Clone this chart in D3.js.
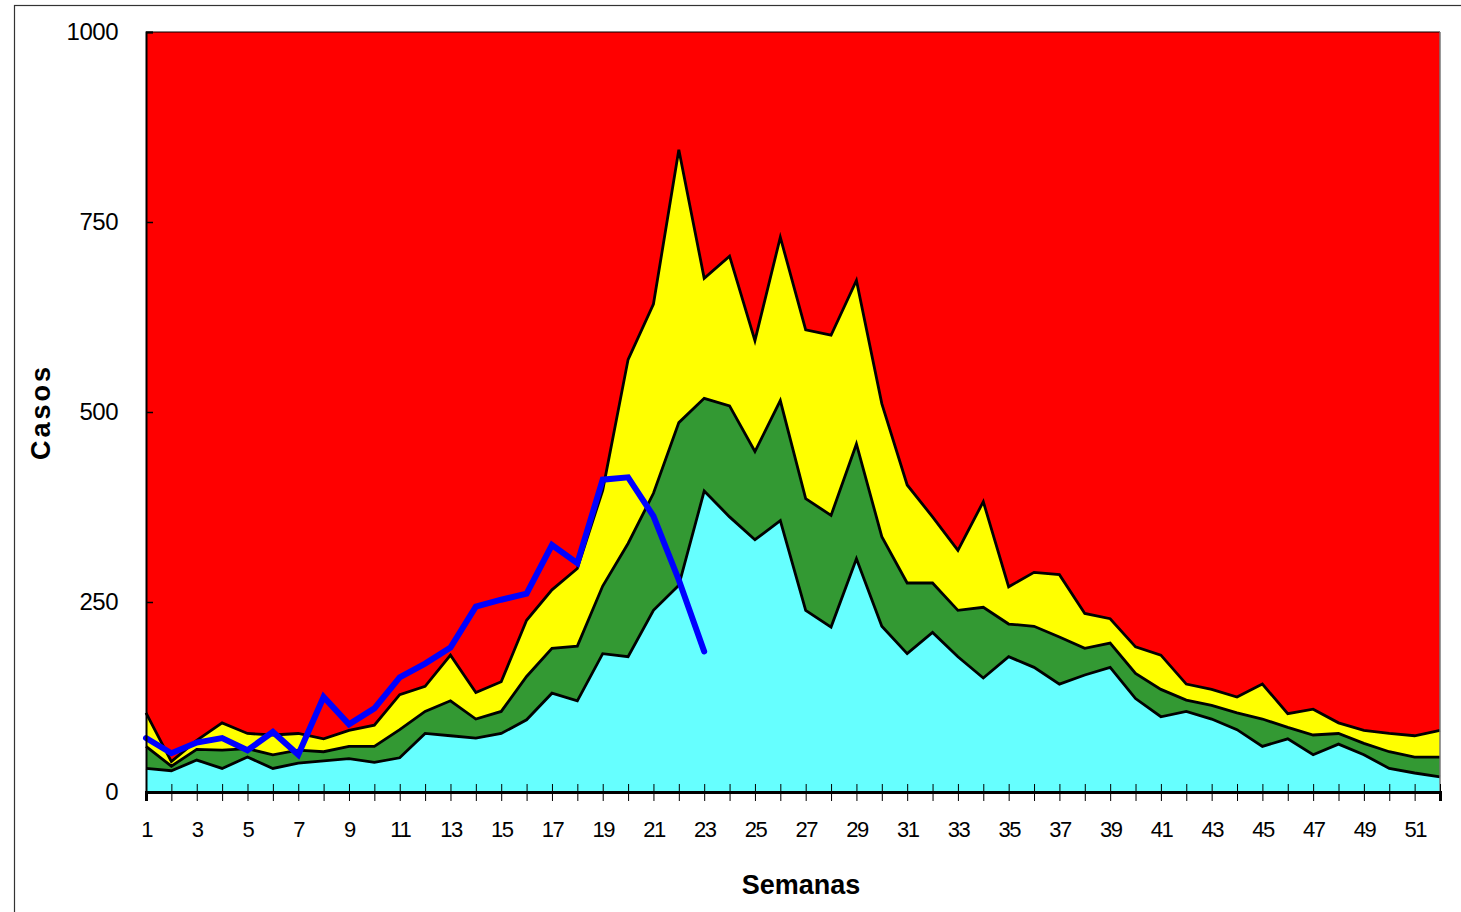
<!DOCTYPE html>
<html>
<head>
<meta charset="utf-8">
<script src="https://cdn.jsdelivr.net/npm/d3@7"></script>
<style>
  body { margin: 0; background: #fff; }
  text { font-family: "Liberation Sans", Arial, sans-serif; }
</style>
</head>
<body>
<svg id="chart" width="1461" height="912"></svg>
<script>
// weeks 1..52
const weeks = d3.range(1, 53);

// endemic channel boundaries
const q1 = [31, 28, 42, 31, 46, 31, 38, 41, 44, 39, 45, 77, 74, 71, 77, 95, 130, 120, 182, 178,
  239, 272, 396, 362, 332, 357, 239, 217, 307, 218, 182, 210, 178, 150, 178, 164, 142, 154, 164, 123,
  99, 106, 96, 82, 60, 70, 49, 63, 49, 31, 25, 20];
const q2 = [60, 34, 56, 55, 57, 49, 55, 53, 60, 60, 82, 106, 120, 96, 106, 152, 189, 192, 271, 327,
  393, 486, 518, 508, 448, 515, 386, 364, 458, 336, 275, 275, 239, 243, 221, 218, 204, 189, 196, 156,
  135, 121, 114, 104, 96, 85, 75, 77, 64, 53, 46, 46];
const q3 = [104, 40, 68, 91, 77, 75, 77, 70, 81, 88, 128, 139, 180, 131, 145, 226, 266, 294, 397, 569,
  642, 845, 676, 705, 594, 730, 608, 601, 673, 511, 404, 362, 318, 382, 270, 289, 286, 235, 228, 191,
  180, 142, 135, 125, 142, 103, 109, 91, 81, 77, 74, 81];

// current year cases (weeks 1-23)
const casos = [71, 51, 65, 71, 55, 79, 49, 125, 89, 110, 151, 169, 190, 244, 253, 261, 325, 301, 411, 414,
  363, 279, 185];

const yTicks = [0, 250, 500, 750, 1000];

const svg = d3.select('#chart');

// outer frame
svg.append('rect')
  .attr('x', 14.5).attr('y', 5.5)
  .attr('width', 1500).attr('height', 1000)
  .attr('fill', 'none').attr('stroke', '#333').attr('stroke-width', 1.2);

const x = d3.scaleLinear().domain([1, 52]).range([146, 1440]);
const y = d3.scaleLinear().domain([0, 1000]).range([792, 32]);

// red background = epidemic zone up to 1000
svg.append('rect')
  .attr('x', x(1)).attr('y', y(1000))
  .attr('width', x(52) - x(1)).attr('height', y(0) - y(1000))
  .attr('fill', '#ff0000');

const layers = [
  { vals: q3, color: '#ffff00' },
  { vals: q2, color: '#339933' },
  { vals: q1, color: '#66ffff' },
];

layers.forEach(function (l) {
  const area = d3.area()
    .x((d, i) => x(weeks[i]))
    .y0(y(0))
    .y1(d => y(d));
  svg.append('path')
    .datum(l.vals)
    .attr('d', area)
    .attr('fill', l.color);
});

// black boundary lines
[q3, q2, q1].forEach(function (vals) {
  const line = d3.line()
    .x((d, i) => x(weeks[i]))
    .y(d => y(d));
  svg.append('path')
    .datum(vals)
    .attr('d', line)
    .attr('fill', 'none')
    .attr('stroke', '#000')
    .attr('stroke-width', 2.8)
    .attr('stroke-linejoin', 'miter');
});

// plot border top/right
svg.append('line')
  .attr('x1', x(1)).attr('x2', x(52)).attr('y1', y(1000)).attr('y2', y(1000))
  .attr('stroke', '#000').attr('stroke-width', 1);
svg.append('line')
  .attr('x1', x(52)).attr('x2', x(52)).attr('y1', y(1000)).attr('y2', y(0))
  .attr('stroke', '#777').attr('stroke-width', 1.5);

// current year line
svg.append('path')
  .datum(casos)
  .attr('d', d3.line().x((d, i) => x(weeks[i])).y(d => y(d)))
  .attr('fill', 'none')
  .attr('stroke', '#0000ff')
  .attr('stroke-width', 6)
  .attr('stroke-linejoin', 'miter')
  .attr('stroke-linecap', 'round');

// y axis
const yAxis = d3.axisLeft(y).tickValues(yTicks).tickSize(-7).tickPadding(28)
  .tickFormat(d3.format('d'));
const gy = svg.append('g').attr('transform', `translate(${x(1)},0)`).call(yAxis);
gy.select('.domain').attr('stroke', '#000').attr('stroke-width', 2);
gy.selectAll('.tick line').attr('stroke', '#000').attr('stroke-width', 1.5);
gy.selectAll('.tick text')
  .attr('font-size', 24).attr('fill', '#000')
  .style('font-family', '"Liberation Sans", Arial, sans-serif')
  .attr('letter-spacing', -0.5);

// x axis
const xAxis = d3.axisBottom(x).tickValues(weeks).tickSize(9).tickPadding(20)
  .tickFormat(d => (d % 2 === 1 ? d : ''));
const gx = svg.append('g').attr('transform', `translate(0,${y(0)})`).call(xAxis);
gx.select('.domain').attr('stroke', '#000').attr('stroke-width', 3);
gx.selectAll('.tick line')
  .attr('y1', -8).attr('y2', 9)
  .attr('stroke', '#000').attr('stroke-width', 1);
gx.selectAll('.tick text')
  .attr('font-size', 22).attr('fill', '#000')
  .style('font-family', '"Liberation Sans", Arial, sans-serif')
  .attr('letter-spacing', -1.5);

// axis titles
svg.append('text')
  .attr('transform', 'translate(50,412) rotate(-90)')
  .attr('text-anchor', 'middle')
  .attr('font-size', 27).attr('font-weight', 'bold')
  .attr('letter-spacing', 3)
  .text('Casos');

svg.append('text')
  .attr('x', 801).attr('y', 894)
  .attr('text-anchor', 'middle')
  .attr('font-size', 27).attr('font-weight', 'bold')
  .text('Semanas');
</script>
</body>
</html>
